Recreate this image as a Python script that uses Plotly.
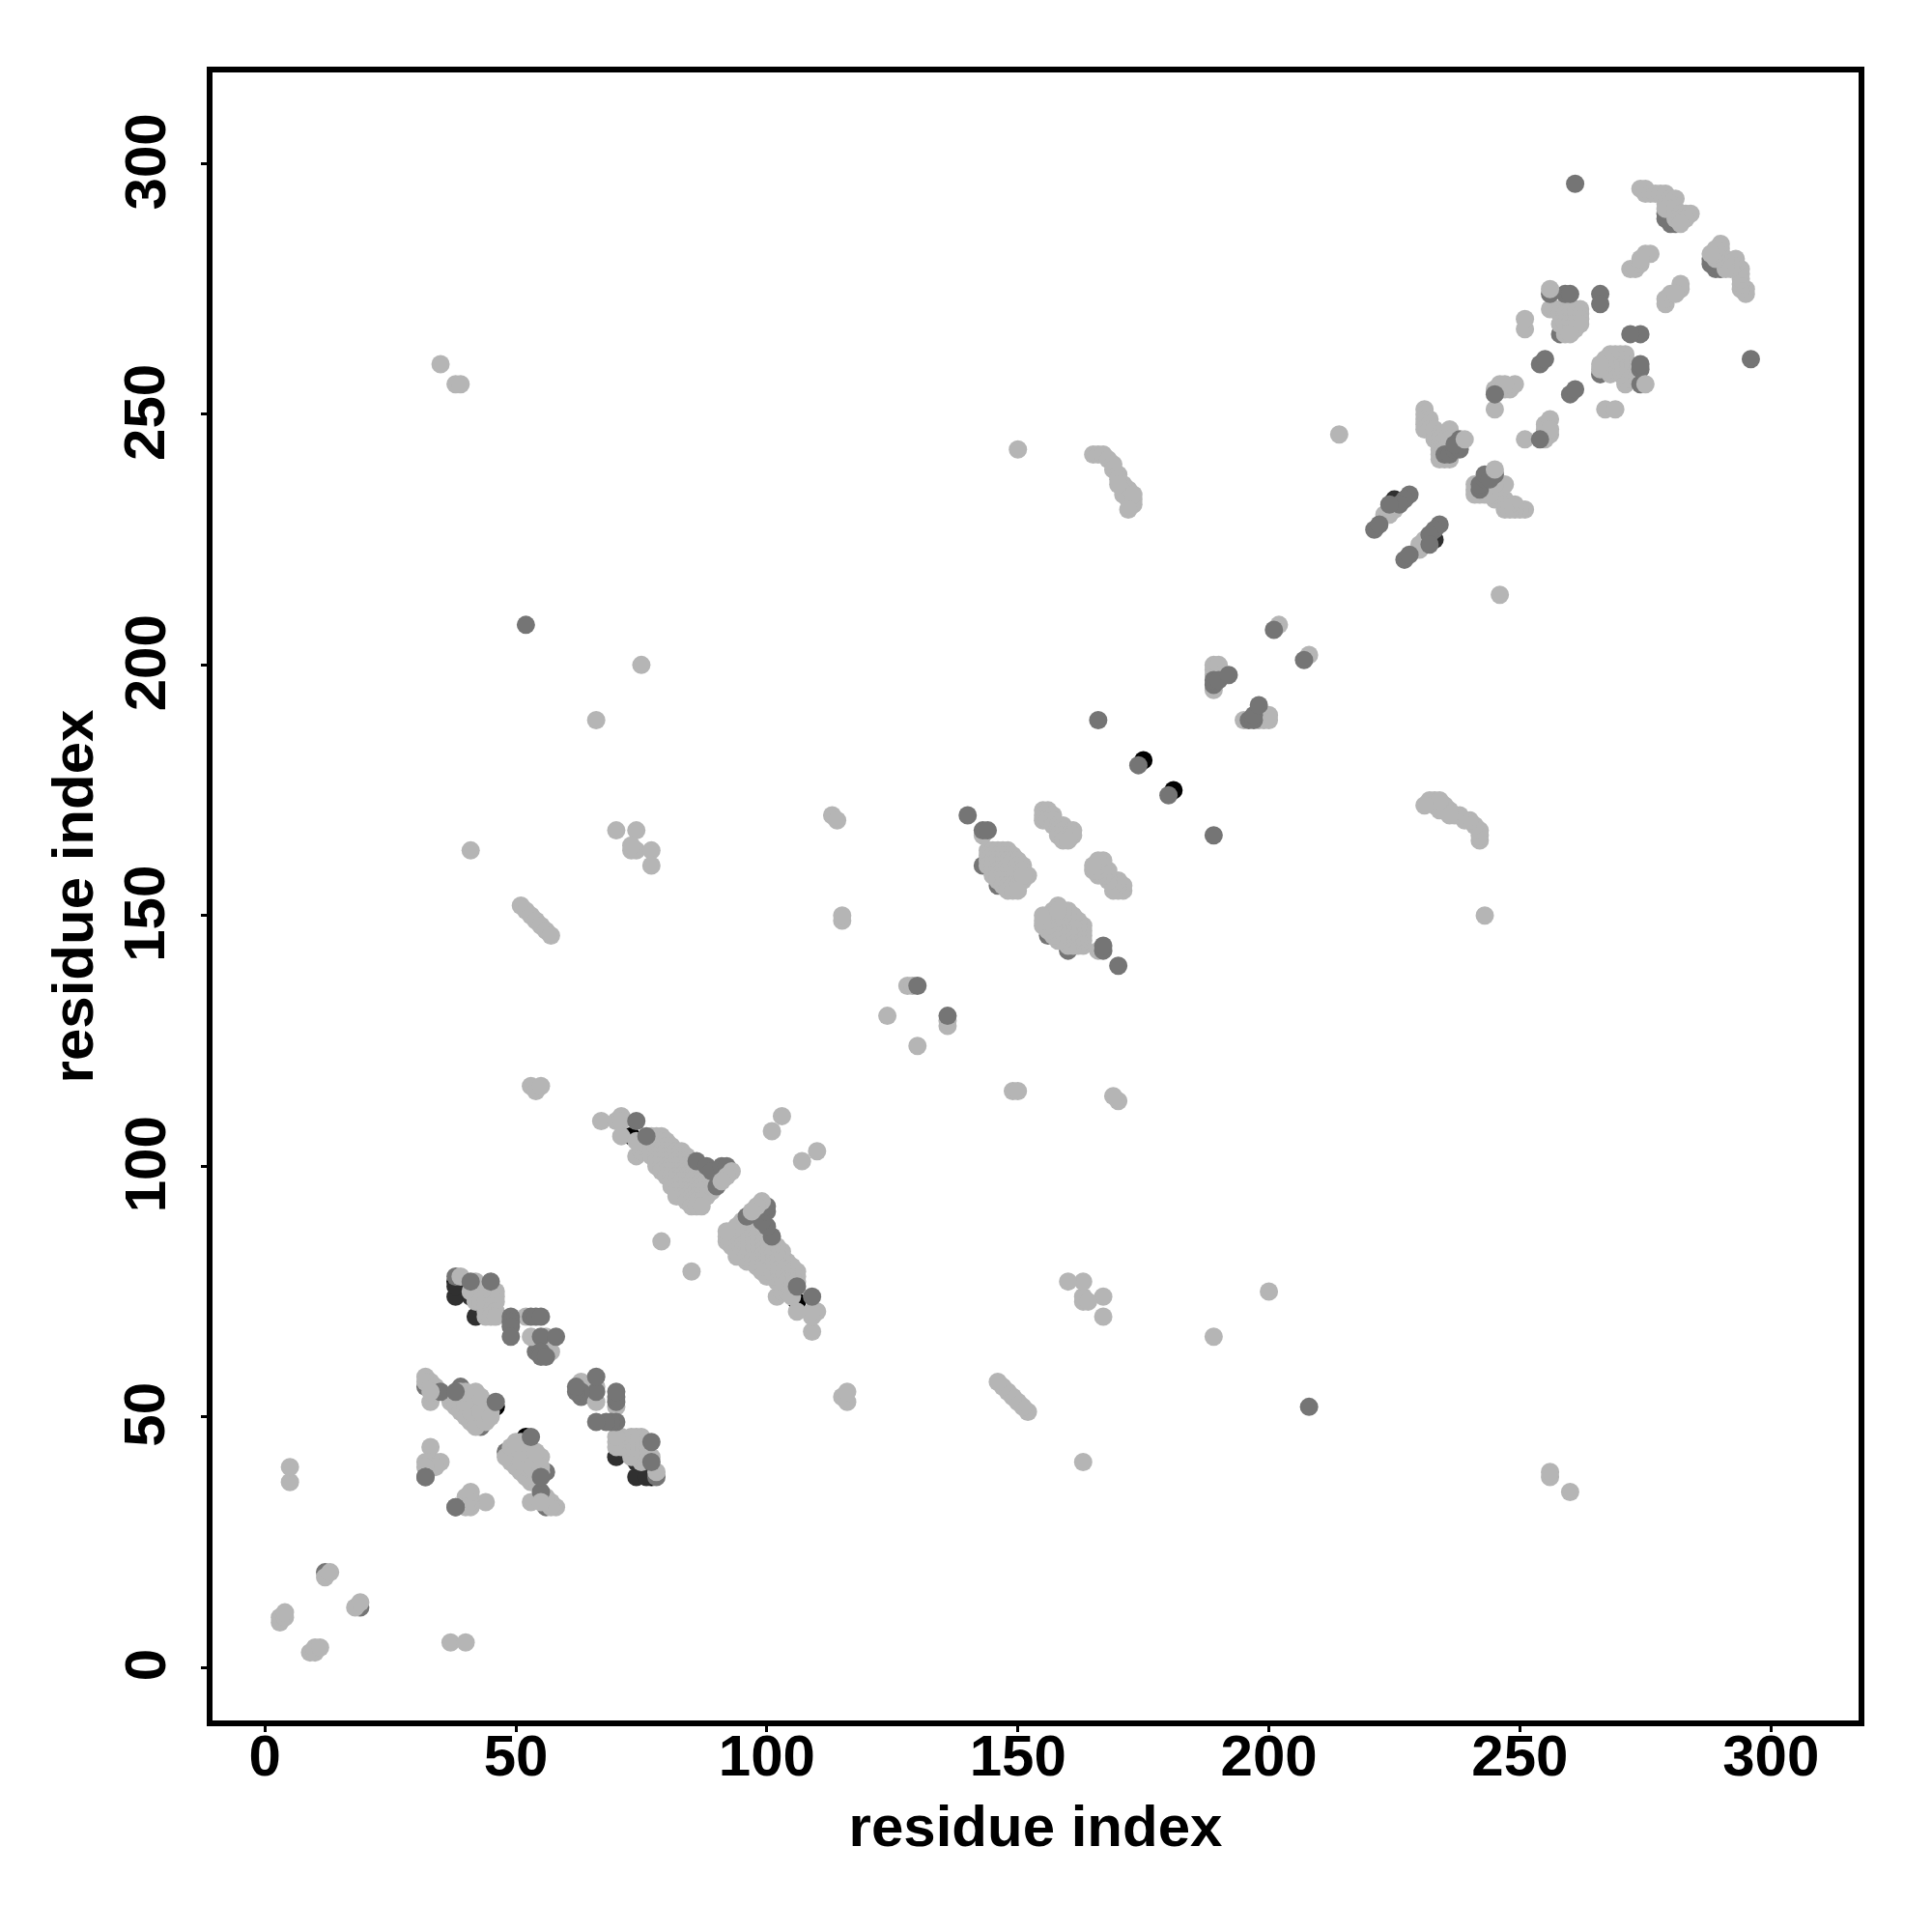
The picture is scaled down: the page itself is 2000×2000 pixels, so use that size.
import plotly.graph_objects as go

# contact pairs (i < j); each is drawn at (i, j) and (j, i)
black_pairs = [(38,77),(46,52),(73,106),(175,181)]
dark_pairs = [(38,74),(38,76),(41,74),(42,70),(41,52),(88,99),(225,233)]
mid_under = [(143,160),(146,156),(149,160),(279,290),(279,289),(280,288),(281,288),
    (258,266),(54,63),(43,48),(39,56),(12,19),(38,78),(32,56),(146,158),(145,159)]
light_low = [(3,9),(3,10),(4,10),(4,11),(12,18),(13,19),(5,37),(5,40),
    (35,260),(38,256),(39,256),(41,163),(75,200),(66,189),(51,152),(52,151),(53,150),
    (54,149),(55,148),(56,147),(57,146),(53,116),(54,115),(55,116),(115,149),(115,150),
    (113,170),(114,169),(70,167),(74,167),(73,163),(74,163),(77,163),(77,160),(73,164),
    (101,107),(103,110),(79,85),(150,243),(214,246),(124,130),(128,136),(129,136)]
light_a = [(39,78),(42,77),(41,75),(42,76),(43,76),(43,75),(44,75),(45,75),(46,75),
    (42,74),(43,74),(44,74),(45,74),(46,74),(42,73),(43,73),(44,73),(45,73),(46,73),
    (44,72),(45,72),(44,71),(45,71),(46,71),(44,70),(45,70),(46,70),(52,70),(53,66),
    (56,66),(57,63),
    (32,58),(33,57),(32,57),(33,56),(33,53),(34,56),(37,53),(38,52),(39,53),(39,51),
    (40,52),(40,50),(41,54),(42,55),(42,52),(43,53),(43,50),(41,49),(42,49),(42,48),
    (44,50),(44,52),(44,49),(41,51),(40,53),(43,51),(43,54),(45,51),(45,50),
    (33,44),(32,41),(33,41),(34,41),(35,41),(33,40),(34,40),(32,40),
    (39,55),(40,55)]
light_b = [(67,109),(70,109),(71,110),(71,109),(71,106),(74,102),(75,103),(75,104),(74,105),
    (77,106),(78,106),(79,106),(77,105),(78,105),(79,105),(80,105),
    (77,104),(78,104),(79,104),(80,104),(81,104),
    (77,103),(78,103),(79,103),(80,103),(81,103),(82,103),(83,103),
    (77,102),(78,102),(79,102),(80,102),(81,102),(82,102),(83,102),(84,102),
    (78,101),(79,101),(80,101),(81,101),(82,101),(83,101),(84,101),(85,101),
    (78,100),(79,100),(80,100),(81,100),(82,100),(83,100),(84,100),(85,100),(86,100),
    (79,99),(80,99),(81,99),(82,99),(83,99),(84,99),(85,99),(86,99),(87,99),
    (80,98),(81,98),(82,98),(83,98),(84,98),(85,98),(86,98),(87,98),(88,98),
    (81,97),(82,97),(83,97),(84,97),(85,97),(86,97),(87,97),(88,97),(89,97),
    (81,96),(82,96),(83,96),(84,96),(85,96),(86,96),(87,96),(88,96),(89,96),
    (82,95),(83,95),(84,95),(85,95),(86,95),(87,95),(88,95),(89,95),
    (82,94),(83,94),(84,94),(85,94),(86,94),(87,94),(88,94),
    (84,93),(85,93),(86,93),(87,93),(85,92),(86,92),(87,92)]
light_c = [(143,166),(144,163),(145,163),(146,163),(147,163),(148,163),
    (144,162),(145,162),(146,162),(147,162),(148,162),(149,162),
    (144,161),(145,161),(146,161),(147,161),(148,161),(149,161),(150,161),
    (144,160),(145,160),(146,160),(147,160),(148,160),
    (145,159),(146,159),(147,159),(148,159),(149,159),
    (145,158),(146,158),(147,158),(148,158),(149,158),(150,158),
    (146,157),(147,157),(148,157),(149,157),(150,157),(151,157),
    (147,156),(148,156),(149,156),(150,156),(148,155),(149,155),(150,155),
    (155,171),(156,171),(155,170),(156,170),(157,170),(155,169),(156,169),(157,169),
    (157,168),(158,168),(159,168),(158,167),(159,167),(160,167),(161,167),
    (158,166),(159,166),(160,166),(161,166),(159,165),(160,165),
    (165,242),(166,242),(167,242),(168,241),(169,240),(169,239),(170,238),(170,237),
    (171,236),(171,235),(172,235),(172,234),(172,233),(173,233),(173,232),(171,234),
    (170,236),(173,234),(172,231)]
light_d = [(189,195),(189,198),(189,199),(189,200),(190,200),(190,198),(202,208),
    (223,230),(224,231),(225,231),(224,230),
    (231,251),(231,250),(231,249),(232,249),(231,248),(232,248),(231,247),(232,247),
    (233,247),(234,246),(235,246),(236,247),(233,245),(234,245),(235,245),(234,244),
    (234,243),(235,243),(234,242),(235,241),(234,241),(236,241),(236,243),(236,245),
    (245,251),(245,255),(246,256),(247,255),(248,255),(249,256),(246,255),(247,256),
    (251,267),(251,269),(256,271),(257,271),(258,271),(259,271),(260,271),(261,271),
    (262,271),(258,270),(259,270),(260,270),(261,270),(262,270),(259,269),(260,269),
    (261,269),(262,269),(258,268),(259,268),(260,268),(261,268),(262,268),(259,267),
    (260,267),(261,267),(259,266),(260,266),
    (274,295),(275,295),(275,294),(276,294),(277,294),(278,294),(279,294),(280,293),
    (281,293),(279,292),(280,292),(280,291),(279,291),(281,291),(282,290),(283,290),
    (284,290),(281,289),(282,289),(283,289),(282,288),
    (272,279),(273,279),(274,280),(275,282),(276,282),(274,281)]
mid_pairs = [(52,208),(261,296),(140,170),(143,167),(144,167),(166,189),(174,180),
    (130,136),(41,77),(45,77),(49,70),(49,69),(49,68),(49,66),(53,70),(54,70),
    (55,70),(55,66),(58,66),(55,63),(55,62),(56,62),(35,55),(38,55),
    (46,53),(32,38),(38,32),(74,109),(76,106),(86,101),(88,100),(89,99),
    (91,100),(92,100),(90,96),
    (189,196),(189,197),(190,197),(192,198),(201,207),(221,227),(222,228),(228,234),
    (227,233),(226,232),(224,232),(235,242),(236,242),(237,243),(238,243),(238,245),
    (237,244),(245,254),(254,260),(255,261),(256,274),(259,274),(260,274),(266,274),
    (266,272)]
light_top = [(93,99),(92,98),(91,97),(150,160),(151,160),(150,159),(151,159),(152,158),
    (239,245),(256,275),(151,158),(33,55)]
greys = ["#000000", "#303030", "#757575", "#b5b5b5", "#757575", "#b5b5b5"]
layers = [black_pairs, dark_pairs, mid_under, light_low + light_a + light_b + light_c + light_d,
          mid_pairs, light_top]
tick_values = [0, 50, 100, 150, 200, 250, 300]
axis_title = "residue index"

fig = go.Figure()
for pairs, grey in zip(layers, greys):
    i = [p[0] for p in pairs]
    j = [p[1] for p in pairs]
    fig.add_trace(go.Scatter(x=i + j, y=j + i, mode="markers", showlegend=False,
                             marker=dict(size=19, color=grey, line=dict(width=0))))

font = dict(family="Liberation Sans", size=60, color="black", weight="bold")
common = dict(showgrid=False, zeroline=False, showline=True, linewidth=6, linecolor="black",
              mirror=True, ticks="outside", ticklen=6, tickwidth=3, tickcolor="black",
              tickvals=tick_values)
fig.update_xaxes(range=[-10.42, 317.46], ticklabelstandoff=-27, tickfont=font,
                 title=dict(text=axis_title, font=font, standoff=21), **common)
fig.update_yaxes(range=[-10.56, 318.2], showticklabels=False,
                 title=dict(text=axis_title, font=font, standoff=94), **common)
for v in tick_values:
    fig.add_annotation(text=str(v), font=font, textangle=-90, showarrow=False,
                       xref="paper", x=0, xanchor="center", xshift=-70,
                       yref="y", y=v, yanchor="middle", yshift=2)
fig.update_layout(width=2000, height=2000, autosize=False, paper_bgcolor="white",
                  plot_bgcolor="white", margin=dict(l=211.5, r=83.5, t=67, b=226.5))
fig.write_html("out.html")
